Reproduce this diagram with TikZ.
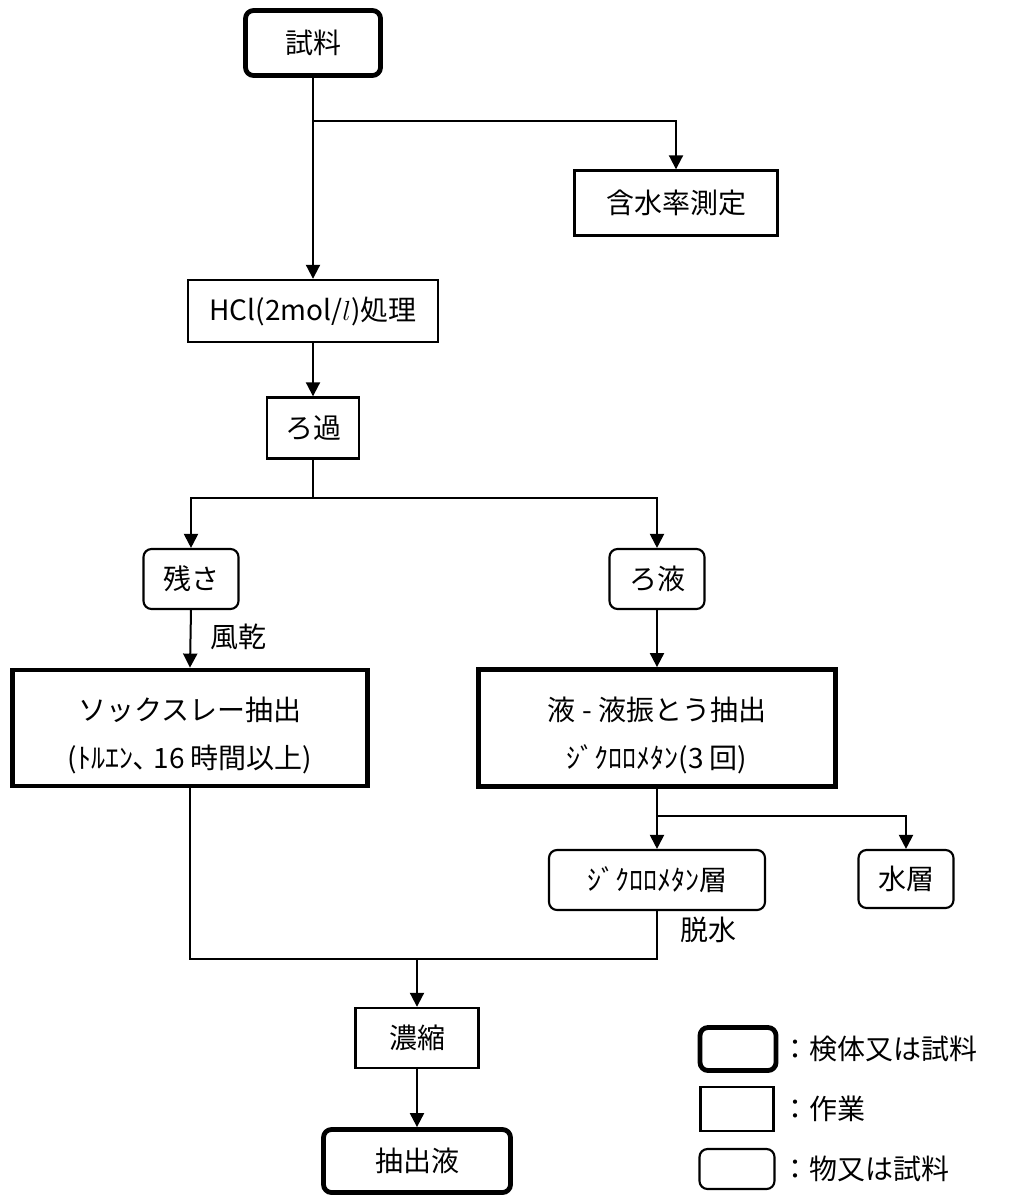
\documentclass[tikz,border=0pt]{standalone}
\usepackage{fontspec}
\setmainfont{Noto Sans CJK JP}
\usetikzlibrary{arrows.meta}
\tikzset{
  base/.style={draw=black, align=center, inner sep=0pt, font=\fontsize{21}{36}\selectfont},
  specimen/.style={base, line width=3.6pt, rounded corners=6pt},
  work/.style={base, line width=1.8pt},
  thing/.style={base, line width=1.6pt, rounded corners=6pt},
  wide/.style={base, line width=3.6pt},
  lbl/.style={inner sep=0pt, align=center, font=\fontsize{21}{36}\selectfont},
  conn/.style={line width=1.5pt},
  arr/.style={conn, -{Triangle[width=10.5pt,length=10.5pt]}}
}
\begin{document}
\begin{tikzpicture}[x=0.75pt,y=-0.75pt]
\useasboundingbox (0,0) rectangle (1008,1196);
% nodes
\node[specimen, minimum width=135*0.75pt, minimum height=65*0.75pt] (s1) at (313,43) {試料};
\node[work, minimum width=203*0.75pt, minimum height=65*0.75pt] (moist) at (676,203) {含水率測定};
\node[work, minimum width=250*0.75pt, minimum height=62*0.75pt] (hcl) at (313,311) {HCl(2mol/$l$)処理};
\node[work, minimum width=92*0.75pt, minimum height=61*0.75pt] (roka) at (313,428) {ろ過};
\node[thing, minimum width=95*0.75pt, minimum height=60*0.75pt] (zansa) at (191,579) {残さ};
\node[thing, minimum width=95*0.75pt, minimum height=60*0.75pt] (roeki) at (657,579) {ろ液};
\node[wide, minimum width=355*0.75pt, minimum height=116*0.75pt] (sox) at (190,728) {};
\node[lbl] (soxt) at (190,735) {ソックスレー抽出\\(ﾄﾙｴﾝ､ 16 時間以上)};
\node[wide, minimum width=357*0.75pt, minimum height=117*0.75pt] (ll) at (657,728) {};
\node[lbl] (llt) at (657,735) {液 - 液振とう抽出\\ｼﾞｸﾛﾛﾒﾀﾝ(3 回)};
\node[thing, minimum width=216*0.75pt, minimum height=60*0.75pt] (dcm) at (657,880) {ｼﾞｸﾛﾛﾒﾀﾝ層};
\node[thing, minimum width=95*0.75pt, minimum height=58*0.75pt] (water) at (906,879) {水層};
\node[work, minimum width=123*0.75pt, minimum height=60*0.75pt] (conc) at (417,1038) {濃縮};
\node[specimen, minimum width=187*0.75pt, minimum height=63*0.75pt] (ext) at (417,1161) {抽出液};
% labels
\node[lbl, anchor=west] (fuukan) at (210,637) {風乾};
\node[lbl, anchor=west] (dassui) at (680,930) {脱水};
% branch points
\coordinate (b1) at (313,121);
\coordinate (b2) at (313,498);
\coordinate (b3) at (657,816);
\coordinate (b4) at (417,959);
% connectors
\draw[arr] (s1.south) -- (hcl.north);
\draw[arr] (b1) -| (moist.north);
\draw[arr] (hcl.south) -- (roka.north);
\draw[conn] (roka.south) -- (b2);
\draw[arr] (b2) -| (zansa.north);
\draw[arr] (b2) -| (roeki.north);
\draw[arr] (zansa.south) -- (sox.north);
\draw[arr] (roeki.south) -- (ll.north);
\draw[conn] (ll.south) -- (b3);
\draw[arr] (b3) -| (dcm.north);
\draw[arr] (b3) -| (water.north);
\draw[conn] (sox.south) |- (b4);
\draw[conn] (dcm.south) |- (b4);
\draw[arr] (b4) -- (conc.north);
\draw[arr] (conc.south) -- (ext.north);
% legend
\node[specimen, minimum width=76*0.75pt, minimum height=43*0.75pt] (lg1) at (738,1049) {};
\node[work, minimum width=73*0.75pt, minimum height=44*0.75pt] (lg2) at (737,1109) {};
\node[thing, minimum width=75*0.75pt, minimum height=40*0.75pt] (lg3) at (737,1169) {};
\node[lbl, anchor=west] (lt1) at (781,1049) {：検体又は試料};
\node[lbl, anchor=west] (lt2) at (781,1109) {：作業};
\node[lbl, anchor=west] (lt3) at (781,1169) {：物又は試料};
\end{tikzpicture}
\end{document}
